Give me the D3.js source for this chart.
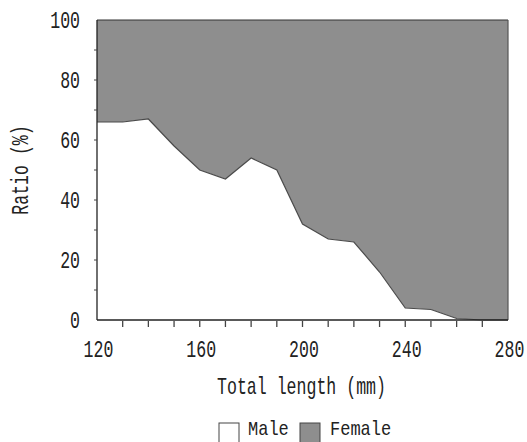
<!DOCTYPE html>
<html>
<head>
<meta charset="utf-8">
<script src="https://cdn.jsdelivr.net/npm/d3@7"></script>
<style>
  html, body { margin: 0; padding: 0; background: #fff; }
  svg text { font-family: "Liberation Mono", "DejaVu Sans Mono", monospace; fill: #222; font-size: 23px; }
</style>
</head>
<body>
<svg id="chart" width="527" height="442"></svg>
<script>
// Total length classes (mm) and share of males in each class (%)
const lengths = [120, 130, 140, 150, 160, 170, 180, 190, 200, 210, 220, 230, 240, 250, 260, 270, 280];
const maleRatio = [66, 66, 67, 58, 50, 47, 54, 50, 32, 27, 26, 16, 4, 3.5, 0.5, 0, 0];
const xTickLabels = [120, 160, 200, 240, 280];
const yTickLabels = [0, 20, 40, 60, 80, 100];
const minorXTicks = [130, 140, 150, 160, 170, 180, 190, 200, 210, 220, 230, 240, 250, 260, 270];
const minorYTicks = [10, 20, 30, 40, 50, 60, 70, 80, 90];
const legendItems = ["Male", "Female"];

const svg = d3.select("#chart");
const plotLeft = 97, plotRight = 508, plotTop = 20, plotBottom = 320;

const x = d3.scaleLinear().domain([120, 280]).range([plotLeft, plotRight]);
const y = d3.scaleLinear().domain([0, 100]).range([plotBottom, plotTop]);

const data = lengths.map((l, i) => ({ l, m: maleRatio[i] }));

const femaleFill = "#8e8e8e";

// Draws a horizontally condensed label centred vertically on (px, py)
function label(parent, px, py, txt, anchor, opts = {}) {
  const sx = opts.squeeze || 0.72;
  const g = parent.append("g")
    .attr("transform", `translate(${px},${py})` + (opts.rotate ? " rotate(-90)" : "") + ` scale(${sx},1)`);
  const t = g.append("text")
    .attr("text-anchor", anchor)
    .attr("dominant-baseline", "central")
    .text(txt);
  if (opts.size) t.style("font-size", opts.size + "px");
  return g;
}

// Female share: from the male boundary up to 100 %
svg.append("path")
  .datum(data)
  .attr("fill", femaleFill)
  .attr("d", d3.area().x(d => x(d.l)).y0(d => y(d.m)).y1(y(100)));

// Male share: white area under the boundary
svg.append("path")
  .datum(data)
  .attr("fill", "#fff")
  .attr("d", d3.area().x(d => x(d.l)).y0(y(0)).y1(d => y(d.m)));

// Boundary line between the two shares
svg.append("path")
  .datum(data)
  .attr("fill", "none")
  .attr("stroke", "#4a4a4a")
  .attr("stroke-width", 1.2)
  .attr("d", d3.line().x(d => x(d.l)).y(d => y(d.m)));

// Frame: top and right edges
svg.append("line").attr("x1", plotLeft).attr("x2", plotRight).attr("y1", plotTop).attr("y2", plotTop)
  .attr("stroke", "#333").attr("stroke-width", 1.2);
svg.append("line").attr("x1", plotRight).attr("x2", plotRight).attr("y1", plotTop).attr("y2", plotBottom)
  .attr("stroke", "#555").attr("stroke-width", 1.2);

// Y axis
const yAxis = svg.append("g");
yAxis.append("line").attr("x1", plotLeft).attr("x2", plotLeft).attr("y1", plotTop).attr("y2", plotBottom)
  .attr("stroke", "#222").attr("stroke-width", 1.3);
yAxis.selectAll(".ytick").data(minorYTicks).join("line")
  .attr("x1", plotLeft - 3).attr("x2", plotLeft)
  .attr("y1", d => y(d)).attr("y2", d => y(d))
  .attr("stroke", "#444").attr("stroke-width", 1);
yTickLabels.forEach(d => label(yAxis, 80, y(d) + 2, String(d), "end"));

// X axis
const xAxis = svg.append("g");
xAxis.append("line").attr("x1", plotLeft).attr("x2", plotRight).attr("y1", plotBottom).attr("y2", plotBottom)
  .attr("stroke", "#222").attr("stroke-width", 1.3);
xAxis.selectAll(".xtick").data(minorXTicks).join("line")
  .attr("x1", d => x(d)).attr("x2", d => x(d))
  .attr("y1", plotBottom + 1).attr("y2", plotBottom + 7)
  .attr("stroke", "#444").attr("stroke-width", 1.3);
xTickLabels.forEach(d => label(xAxis, x(d) + 1.5, 351, String(d), "middle"));

// Axis titles
label(svg, 301.5, 388, "Total length (mm)", "middle");
label(svg, 22, 170, "Ratio (%)", "middle", { rotate: true });

// Legend
const legend = svg.append("g");
const legendBoxes = [{ x: 219, fill: "#fff" }, { x: 300, fill: femaleFill }];
const legendText = [248, 330];
legend.selectAll("rect").data(legendItems).join("rect")
  .attr("x", (d, i) => legendBoxes[i].x).attr("y", 423)
  .attr("width", 20).attr("height", 22)
  .attr("fill", (d, i) => legendBoxes[i].fill)
  .attr("stroke", "#444").attr("stroke-width", 1);
legendItems.forEach((d, i) => label(legend, legendText[i], 430.5, d, "start", { size: 20, squeeze: 0.85 }));
</script>
</body>
</html>
